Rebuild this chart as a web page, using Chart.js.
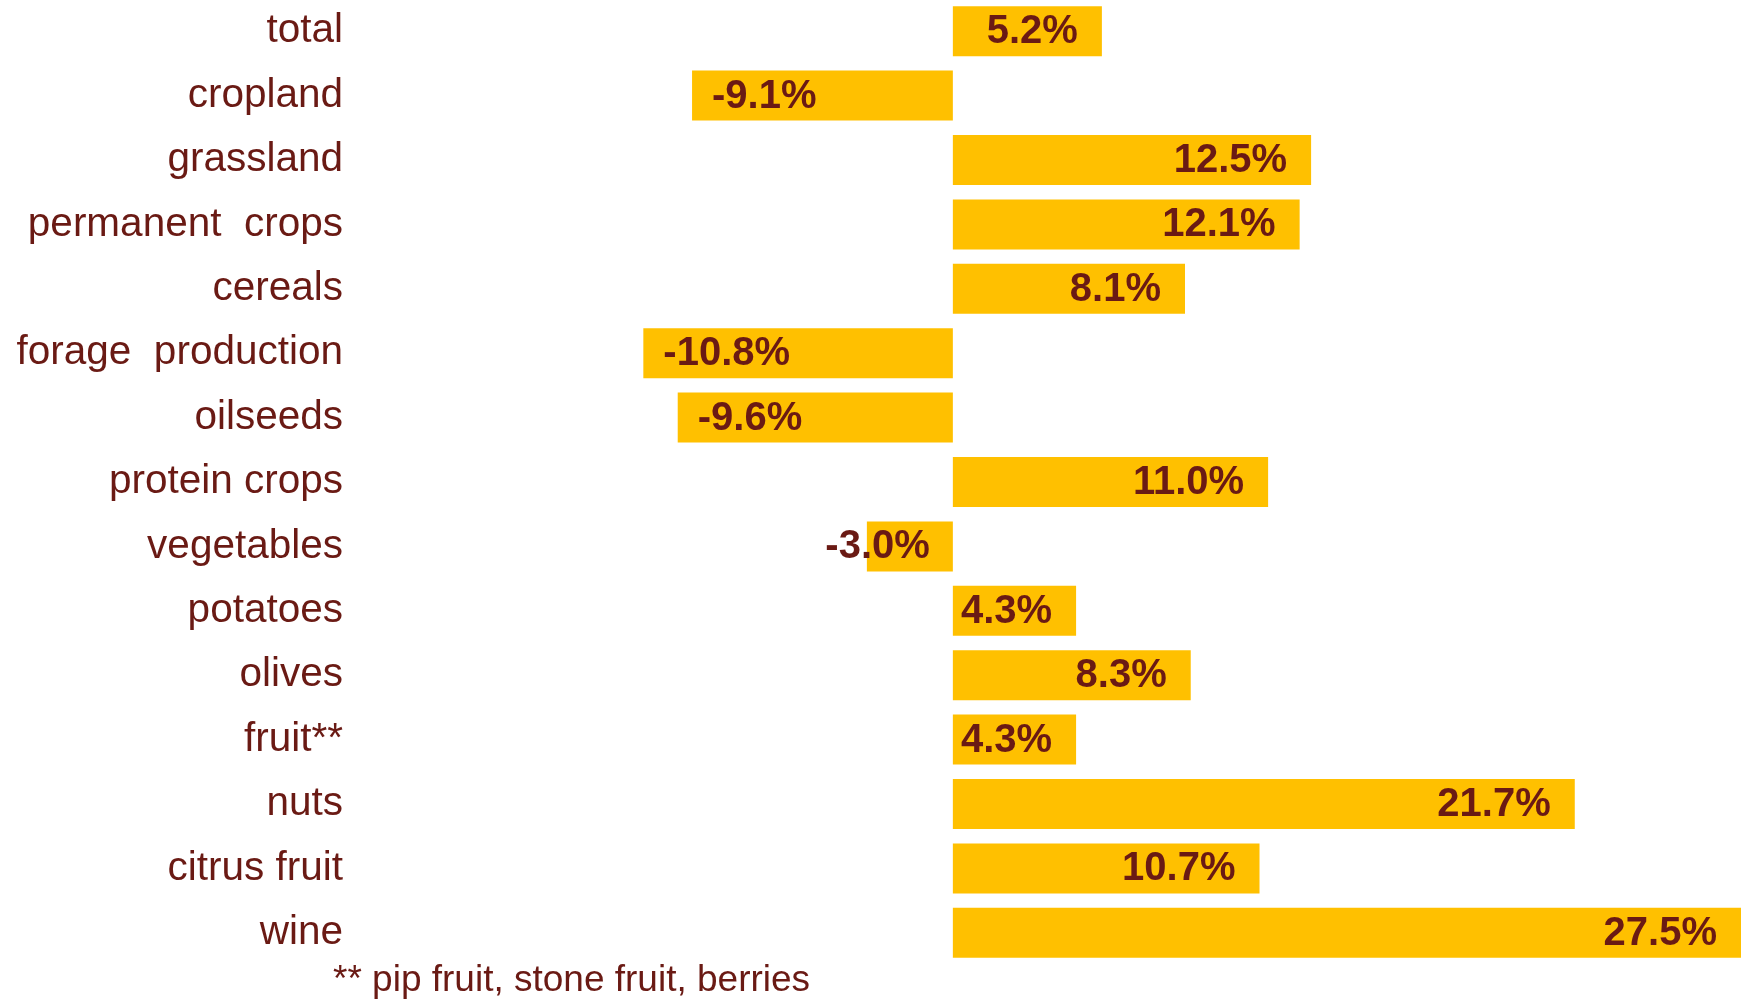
<!DOCTYPE html>
<html>
<head>
<meta charset="utf-8">
<script src="https://cdn.jsdelivr.net/npm/chart.js@4/dist/chart.umd.min.js"></script>
<style>
  html, body { margin: 0; padding: 0; background: #ffffff; width: 1741px; height: 999px; overflow: hidden; }
  #wrap { position: absolute; left: 0; top: -1px; width: 1741px; height: 966px; }
  #note { position: absolute; left: 333px; top: 960px; font-family: "Liberation Sans", Arial, sans-serif; font-size: 37px; line-height: 37px; color: #6a1a14; white-space: pre; }
</style>
</head>
<body>
<div id="wrap"><canvas id="c" width="1741" height="966"></canvas></div>
<div id="note">** pip fruit, stone fruit, berries</div>
<script>
const categories = ["total", "cropland", "grassland", "permanent  crops", "cereals", "forage  production", "oilseeds", "protein crops", "vegetables", "potatoes", "olives", "fruit**", "nuts", "citrus fruit", "wine"];
const changes = [5.2, -9.1, 12.5, 12.1, 8.1, -10.8, -9.6, 11.0, -3.0, 4.3, 8.3, 4.3, 21.7, 10.7, 27.5];
const axisMin = -21;
const axisMax = 27.5;

const TEXT = '#6a1a14';
const BAR = '#ffc000';

const valueLabels = {
  id: 'valueLabels',
  afterDatasetsDraw(chart) {
    const ctx = chart.ctx;
    const meta = chart.getDatasetMeta(0);
    ctx.save();
    ctx.font = 'bold 40px "Liberation Sans", Arial, sans-serif';
    ctx.fillStyle = TEXT;
    ctx.textBaseline = 'middle';
    meta.data.forEach((bar, i) => {
      const v = changes[i];
      const txt = v.toFixed(1) + '%';
      const w = ctx.measureText(txt).width;
      if (v >= 0) {
        ctx.textAlign = 'right';
        ctx.fillText(txt, bar.x - 24, bar.y + 1);
      } else {
        const len = Math.abs(bar.base - bar.x);
        if (w + 40 <= len) {
          ctx.textAlign = 'left';
          ctx.fillText(txt, bar.x + 20, bar.y + 1);
        } else {
          ctx.textAlign = 'right';
          ctx.fillText(txt, bar.base - 23, bar.y + 1);
        }
      }
    });
    ctx.restore();
  }
};

new Chart(document.getElementById('c'), {
  type: 'bar',
  data: {
    labels: categories,
    datasets: [{
      data: changes,
      backgroundColor: BAR,
      borderWidth: 0,
      categoryPercentage: 1.0,
      barPercentage: 0.776
    }]
  },
  options: {
    indexAxis: 'y',
    responsive: false,
    animation: false,
    devicePixelRatio: 1,
    layout: { padding: 0 },
    plugins: {
      legend: { display: false },
      tooltip: { enabled: false },
      title: { display: false }
    },
    scales: {
      x: {
        display: false,
        min: axisMin,
        max: axisMax
      },
      y: {
        position: 'left',
        grid: { display: false, drawTicks: false },
        border: { display: false },
        ticks: {
          color: TEXT,
          padding: 8,
          font: { family: '"Liberation Sans", Arial, sans-serif', size: 40.5 }
        },
        afterFit(scale) {
          scale.width = 351;
          scale.paddingTop = 0;
          scale.paddingBottom = 0;
        }
      }
    }
  },
  plugins: [valueLabels]
});
</script>
</body>
</html>
